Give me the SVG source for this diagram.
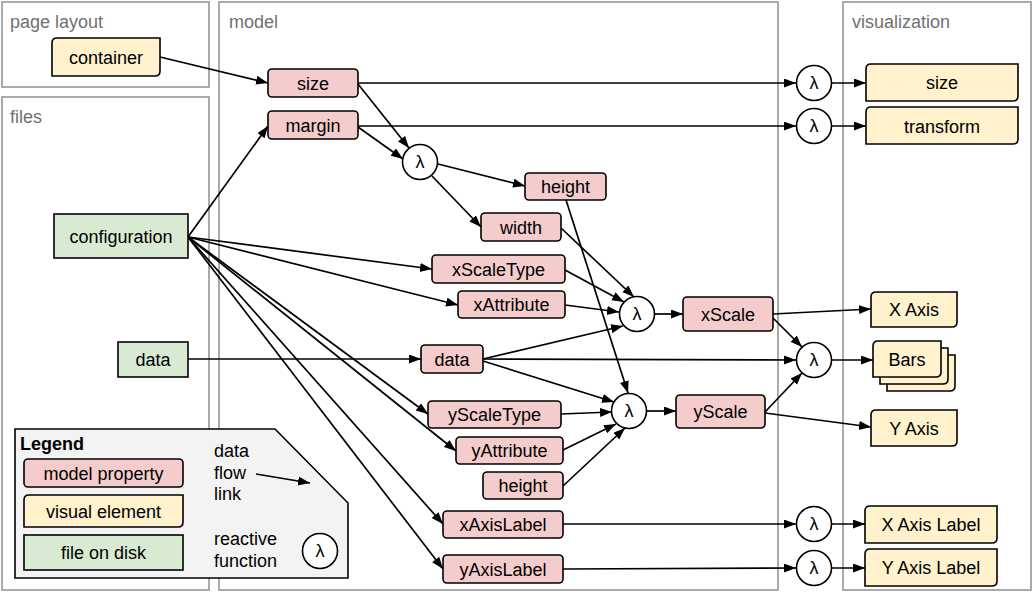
<svg xmlns="http://www.w3.org/2000/svg" width="1034" height="594" viewBox="0 0 1034 594">
<defs>
<marker id="ah" markerUnits="userSpaceOnUse" markerWidth="14" markerHeight="10" refX="12" refY="4.5" orient="auto">
<path d="M0,0 L12,4.5 L0,9 Z" fill="#000"/>
</marker>
</defs>
<style>
.panel{fill:#fff;stroke:#aaa;stroke-width:2}
.ptitle{font-family:"Liberation Sans",Arial,sans-serif;font-size:18px;fill:#707070}
.model{fill:#f4cccc;stroke:#000;stroke-width:1.6}
.vis{fill:#fff2cc;stroke:#000;stroke-width:1.6}
.file{fill:#d9ead3;stroke:#000;stroke-width:1.6}
.fn{fill:#fff;stroke:#000;stroke-width:1.6}
text{font-family:"Liberation Sans",Arial,sans-serif;font-size:18px;fill:#000}
.c{text-anchor:middle}
.conn line{stroke:#000;stroke-width:1.7;marker-end:url(#ah)}
.conn line.plain{marker-end:none}
</style>
<rect width="1034" height="594" fill="#fff"/>
<g id="panels">
<rect class="panel" x="2" y="2" width="207" height="85"/>
<text class="ptitle" x="10" y="28">page layout</text>
<rect class="panel" x="2" y="97" width="207" height="493"/>
<text class="ptitle" x="10" y="123">files</text>
<rect class="panel" x="219" y="2" width="559" height="588"/>
<text class="ptitle" x="229" y="28">model</text>
<rect class="panel" x="843" y="2" width="188" height="588"/>
<text class="ptitle" x="852" y="28">visualization</text>
</g>
<g id="legend">
<path d="M15,429 H275 L348,503 V578 H15 Z" fill="#f3f3f3" stroke="#000" stroke-width="1.6"/>
<text x="20" y="450" style="font-weight:bold">Legend</text>
<rect class="model" x="24" y="459" width="159" height="28" rx="4"/>
<text class="c" x="103.5" y="479.5">model property</text>
<path class="vis" d="M29,495 H183 V522 Q183,527 178,527 H24 V500 Q24,495 29,495 Z"/>
<text class="c" x="103.5" y="517.5">visual element</text>
<rect class="file" x="24" y="535" width="159" height="35"/>
<text class="c" x="103.5" y="559">file on disk</text>
<text x="214" y="457">data</text>
<text x="214" y="479">flow</text>
<text x="214" y="500">link</text>
<line x1="256" y1="474" x2="310" y2="483" stroke="#000" stroke-width="1.7" marker-end="url(#ah)"/>
<text x="214" y="545">reactive</text>
<text x="214" y="567">function</text>
<circle class="fn" cx="320" cy="551" r="17.5"/>
<text class="c" x="320" y="557">λ</text>
</g>
<g class="conn" id="connectors">
<line x1="160" y1="57" x2="268" y2="83"/>
<line x1="188" y1="237" x2="268" y2="126"/>
<line x1="188" y1="237" x2="432" y2="269"/>
<line x1="188" y1="237" x2="458" y2="305"/>
<line x1="188" y1="237" x2="428" y2="414"/>
<line x1="188" y1="237" x2="456" y2="451"/>
<line x1="188" y1="237" x2="443" y2="524"/>
<line x1="188" y1="237" x2="443" y2="569"/>
<line x1="188" y1="359" x2="421" y2="359"/>
<line x1="358" y1="83" x2="796" y2="83"/>
<line x1="832" y1="83" x2="866" y2="83"/>
<line x1="358" y1="126" x2="796" y2="126"/>
<line x1="832" y1="126" x2="866" y2="126"/>
<line x1="358" y1="84" x2="409" y2="148"/>
<line x1="358" y1="127" x2="403" y2="159"/>
<line x1="438" y1="164" x2="525" y2="186"/>
<line x1="432" y1="176" x2="481" y2="227"/>
<line x1="566" y1="200" x2="628" y2="393"/>
<line x1="561" y1="228" x2="634" y2="297"/>
<line x1="565" y1="270" x2="624" y2="302"/>
<line x1="565" y1="305" x2="619" y2="312"/>
<line x1="483" y1="359" x2="623" y2="326"/>
<line x1="483" y1="359" x2="796" y2="360"/>
<line x1="483" y1="361" x2="614" y2="402"/>
<line x1="654" y1="314" x2="683" y2="314"/>
<line x1="647" y1="411" x2="676" y2="411"/>
<line x1="561" y1="414" x2="612" y2="412"/>
<line x1="563" y1="450" x2="616" y2="424"/>
<line x1="563" y1="486" x2="625" y2="428"/>
<line x1="773" y1="314" x2="871" y2="309"/>
<line x1="773" y1="318" x2="802" y2="347"/>
<line x1="765" y1="412" x2="802" y2="373"/>
<line x1="765" y1="413" x2="871" y2="427"/>
<line x1="832" y1="360" x2="873" y2="360"/>
<line x1="563" y1="524" x2="796" y2="524"/>
<line x1="832" y1="524" x2="865" y2="524"/>
<line x1="563" y1="569" x2="796" y2="568"/>
<line x1="832" y1="568" x2="865" y2="568"/>
</g>
<g id="n-container"><path class="vis" d="M57,38 H160 V71 Q160,76 155,76 H52 V43 Q52,38 57,38 Z"/><text class="c" x="106" y="63.5">container</text></g>
<g id="n-configuration"><rect class="file" x="54" y="214" width="134" height="44"/><text class="c" x="121" y="242.5">configuration</text></g>
<g id="n-filedata"><rect class="file" x="118" y="342" width="70" height="35"/><text class="c" x="153" y="365.5">data</text></g>
<g id="n-size"><rect class="model" x="268" y="69" width="90" height="28" rx="4"/><text class="c" x="313" y="89.5">size</text></g>
<g id="n-margin"><rect class="model" x="268" y="111" width="90" height="28" rx="4"/><text class="c" x="313" y="132">margin</text></g>
<g id="f-hw"><circle class="fn" cx="420" cy="162" r="17.5"/><text class="c" x="420" y="168">λ</text></g>
<g id="n-height"><rect class="model" x="525" y="173" width="81" height="27" rx="4"/><text class="c" x="565.5" y="193">height</text></g>
<g id="n-width"><rect class="model" x="481" y="213" width="80" height="28" rx="4"/><text class="c" x="521" y="233.5">width</text></g>
<g id="n-xScaleType"><rect class="model" x="432" y="255" width="133" height="28" rx="4"/><text class="c" x="498.5" y="275.5">xScaleType</text></g>
<g id="n-xAttribute"><rect class="model" x="458" y="291" width="107" height="27" rx="4"/><text class="c" x="511.5" y="311">xAttribute</text></g>
<g id="f-x"><circle class="fn" cx="637" cy="314" r="17.5"/><text class="c" x="637" y="320">λ</text></g>
<g id="n-xScale"><rect class="model" x="683" y="297" width="90" height="34" rx="4"/><text class="c" x="728" y="320.5">xScale</text></g>
<g id="n-data"><rect class="model" x="421" y="345" width="62" height="28" rx="4"/><text class="c" x="452" y="365.5">data</text></g>
<g id="n-yScaleType"><rect class="model" x="428" y="401" width="133" height="27" rx="4"/><text class="c" x="494.5" y="421">yScaleType</text></g>
<g id="f-y"><circle class="fn" cx="629" cy="411" r="17.5"/><text class="c" x="629" y="417">λ</text></g>
<g id="n-yScale"><rect class="model" x="676" y="395" width="89" height="33" rx="4"/><text class="c" x="720.5" y="418">yScale</text></g>
<g id="n-yAttribute"><rect class="model" x="456" y="437" width="107" height="27" rx="4"/><text class="c" x="509.5" y="456.5">yAttribute</text></g>
<g id="n-height2"><rect class="model" x="483" y="472" width="80" height="27" rx="4"/><text class="c" x="523" y="492">height</text></g>
<g id="n-xAxisLabel"><rect class="model" x="443" y="511" width="120" height="27" rx="4"/><text class="c" x="503" y="531">xAxisLabel</text></g>
<g id="n-yAxisLabel"><rect class="model" x="443" y="555" width="120" height="28" rx="4"/><text class="c" x="503" y="575.5">yAxisLabel</text></g>
<g id="f-size"><circle class="fn" cx="814" cy="83" r="17.5"/><text class="c" x="814" y="89">λ</text></g>
<g id="f-transform"><circle class="fn" cx="814" cy="126" r="17.5"/><text class="c" x="814" y="132">λ</text></g>
<g id="f-bars"><circle class="fn" cx="814" cy="360" r="17.5"/><text class="c" x="814" y="366">λ</text></g>
<g id="f-xal"><circle class="fn" cx="814" cy="524" r="17.5"/><text class="c" x="814" y="530">λ</text></g>
<g id="f-yal"><circle class="fn" cx="814" cy="568" r="17.5"/><text class="c" x="814" y="574">λ</text></g>
<g id="v-size"><path class="vis" d="M871,64 H1018 V96 Q1018,101 1013,101 H866 V69 Q866,64 871,64 Z"/><text class="c" x="942" y="89">size</text></g>
<g id="v-transform"><path class="vis" d="M871,107 H1018 V139 Q1018,144 1013,144 H866 V112 Q866,107 871,107 Z"/><text class="c" x="942" y="132.5">transform</text></g>
<g id="v-xaxis"><path class="vis" d="M876,292 H957 V322 Q957,327 952,327 H871 V297 Q871,292 876,292 Z"/><text class="c" x="914" y="316">X Axis</text></g>
<g id="v-bars">
<path class="vis" d="M892,355 H955 V386 Q955,391 950,391 H887 V360 Q887,355 892,355 Z"/>
<path class="vis" d="M885,348 H948 V379 Q948,384 943,384 H880 V353 Q880,348 885,348 Z"/>
<path class="vis" d="M878,341 H941 V372 Q941,377 936,377 H873 V346 Q873,341 878,341 Z"/>
<text class="c" x="907" y="365.5">Bars</text>
</g>
<g id="v-yaxis"><path class="vis" d="M876,410 H957 V441 Q957,446 952,446 H871 V415 Q871,410 876,410 Z"/><text class="c" x="914" y="434.5">Y Axis</text></g>
<g id="v-xal"><path class="vis" d="M870,506 H997 V538 Q997,543 992,543 H865 V511 Q865,506 870,506 Z"/><text class="c" x="931" y="531">X Axis Label</text></g>
<g id="v-yal"><path class="vis" d="M870,549 H997 V581 Q997,586 992,586 H865 V554 Q865,549 870,549 Z"/><text class="c" x="931" y="574">Y Axis Label</text></g>
</svg>
